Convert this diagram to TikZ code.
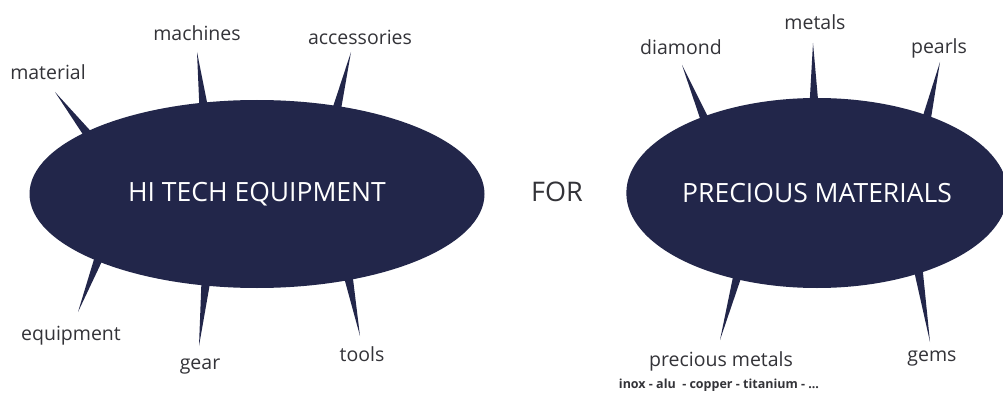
\documentclass[tikz,border=0pt]{standalone}
\usepackage{fontspec}
\setmainfont{Open Sans}
\usetikzlibrary{shapes.geometric,calc}
\definecolor{navy}{RGB}{34,38,74}
\definecolor{txt}{RGB}{51,51,56}
\tikzset{
  blob/.style={ellipse,fill=navy,draw=none,inner sep=0pt,text=white,font=\fontsize{26.5}{28}\selectfont},
  lbl/.style={text=txt,font=\fontsize{19.5}{21}\selectfont,inner sep=0pt},
  spike/.style={fill=navy,draw=none}
}
\newcommand{\spk}[2]{\fill[spike] ($(#1)!4.5pt!90:(#2)$) -- (#2) -- ($(#1)!4.5pt!-90:(#2)$) -- cycle;}
\begin{document}
\begin{tikzpicture}[x=1pt,y=-1pt]
\useasboundingbox (0,0) rectangle (1003,393);
\node[blob,minimum width=455pt,minimum height=188pt] (L) at (257,194) {HI TECH EQUIPMENT};
\node[blob,minimum width=368pt,minimum height=190pt] (R) at (817,193) {PRECIOUS MATERIALS};
\node[lbl,font=\fontsize{27}{28}\selectfont] (for) at (557,192) {FOR};
% spike coordinates
\coordinate (b1) at (90,137); \coordinate (t1) at (55,92);
\coordinate (b2) at (204,110); \coordinate (t2) at (197,52);
\coordinate (b3) at (336,112); \coordinate (t3) at (351,52);
\coordinate (b4) at (100,255); \coordinate (t4) at (78,312);
\coordinate (b5) at (206,280); \coordinate (t5) at (199,346);
\coordinate (b6) at (348,275); \coordinate (t6) at (360,336);
\coordinate (b7) at (707,125); \coordinate (t7) at (682,65);
\coordinate (b8) at (814,105); \coordinate (t8) at (813,43);
\coordinate (b9) at (926,121); \coordinate (t9) at (940,62);
\coordinate (b10) at (739,270); \coordinate (t10) at (720,340);
\coordinate (b11) at (918,268); \coordinate (t11) at (930,342);
\spk{b1}{t1}\spk{b2}{t2}\spk{b3}{t3}\spk{b4}{t4}\spk{b5}{t5}\spk{b6}{t6}
\spk{b7}{t7}\spk{b8}{t8}\spk{b9}{t9}\spk{b10}{t10}\spk{b11}{t11}
% labels
\node[lbl] (material) at (48,72) {material};
\node[lbl] (machines) at (197,33) {machines};
\node[lbl] (accessories) at (360,37) {accessories};
\node[lbl] (equipment) at (71,336) {equipment};
\node[lbl] (gear) at (200,367) {gear};
\node[lbl] (tools) at (362,354) {tools};
\node[lbl] (diamond) at (681,47) {diamond};
\node[lbl] (metals) at (815,22) {metals};
\node[lbl] (pearls) at (939,48) {pearls};
\node[lbl] (pmetals) at (721,361) {precious metals};
\node[lbl,font=\fontsize{12.5}{13}\selectfont\bfseries] (inox) at (719,385) {inox - alu \ - copper - titanium - ...};
\node[lbl] (gems) at (932,359) {gems};
\end{tikzpicture}
\end{document}
